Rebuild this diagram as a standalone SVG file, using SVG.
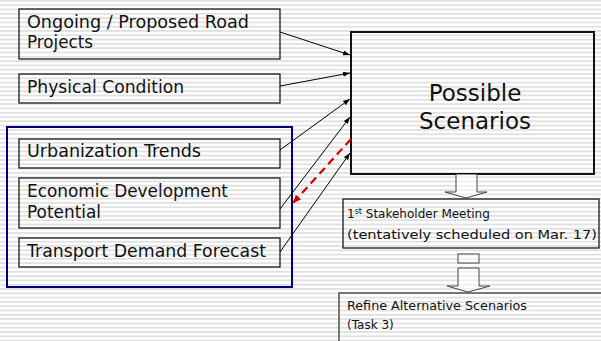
<svg xmlns="http://www.w3.org/2000/svg" width="601" height="341" viewBox="0 0 601 341">
<style>
.box{fill:none;stroke:#1a1a1a;stroke-width:1.3}
.t{font-family:"DejaVu Sans",Verdana,sans-serif;font-size:17px;fill:#111}
.s{font-family:"DejaVu Sans",Verdana,sans-serif;font-size:12px;fill:#111}
.c{stroke:#000;stroke-width:1;fill:none;marker-end:url(#ah)}
.blk{fill:#fff;fill-opacity:0.5;stroke:#444;stroke-width:1}
</style>
<defs>
<pattern id="bg" width="10" height="4.3" patternUnits="userSpaceOnUse">
<rect width="10" height="4.3" fill="#ffffff"/>
<rect y="0" width="10" height="1.8" fill="#e0e0e0"/>
</pattern>
<marker id="ah" markerWidth="8" markerHeight="8" refX="7" refY="4" orient="auto" markerUnits="userSpaceOnUse">
<path d="M0,1.5 L7,4 L0,6.5 Z" fill="#000"/>
</marker>
<marker id="ahr" markerWidth="10" markerHeight="10" refX="8" refY="5" orient="auto" markerUnits="userSpaceOnUse">
<path d="M0,1.5 L8,5 L0,8.5 Z" fill="#d40000"/>
</marker>
</defs>
<rect width="601" height="341" fill="url(#bg)"/>

<g id="group-left">
<rect x="7" y="127" width="285" height="160" fill="none" stroke="#00007a" stroke-width="2"/>
</g>

<g id="node-road">
<rect class="box" x="19" y="9" width="261" height="50"/>
<text class="t" x="27" y="28" textLength="222" lengthAdjust="spacingAndGlyphs">Ongoing / Proposed Road</text>
<text class="t" x="27" y="48" textLength="66" lengthAdjust="spacingAndGlyphs">Projects</text>
</g>
<g id="node-physical">
<rect class="box" x="19" y="74" width="261" height="29"/>
<text class="t" x="27" y="93" textLength="157" lengthAdjust="spacingAndGlyphs">Physical Condition</text>
</g>
<g id="node-urban">
<rect class="box" x="19" y="139" width="261" height="29"/>
<text class="t" x="27" y="157" textLength="174" lengthAdjust="spacingAndGlyphs">Urbanization Trends</text>
</g>
<g id="node-econ">
<rect class="box" x="19" y="178" width="261" height="50"/>
<text class="t" x="27" y="197" textLength="201" lengthAdjust="spacingAndGlyphs">Economic Development</text>
<text class="t" x="27" y="218" textLength="74" lengthAdjust="spacingAndGlyphs">Potential</text>
</g>
<g id="node-transport">
<rect class="box" x="19" y="238" width="261" height="29"/>
<text class="t" x="27" y="257" textLength="239" lengthAdjust="spacingAndGlyphs">Transport Demand Forecast</text>
</g>

<g id="node-scenarios">
<rect x="351" y="32" width="243" height="142" fill="none" stroke="#111" stroke-width="2"/>
<text x="475" y="101" text-anchor="middle" font-family="'DejaVu Sans',Verdana,sans-serif" font-size="23" fill="#111">Possible</text>
<text x="475" y="129" text-anchor="middle" font-family="'DejaVu Sans',Verdana,sans-serif" font-size="23" fill="#111">Scenarios</text>
</g>

<g id="node-meeting">
<rect class="box" x="343" y="199" width="256" height="49"/>
<text class="s" x="347" y="218">1<tspan font-size="8" dy="-4">st</tspan><tspan dy="4"> Stakeholder Meeting</tspan></text>
<text class="s" x="347" y="239" textLength="250" lengthAdjust="spacingAndGlyphs">(tentatively scheduled on Mar. 17)</text>
</g>

<g id="node-refine">
<path d="M339,345 L339,293 L605,293" fill="none" stroke="#777" stroke-width="2"/>
<text class="s" x="347" y="310" textLength="180" lengthAdjust="spacingAndGlyphs">Refine Alternative Scenarios</text>
<text class="s" x="347" y="329">(Task 3)</text>
</g>

<g id="connectors">
<line class="c" x1="280" y1="32" x2="350" y2="55"/>
<line class="c" x1="280" y1="86" x2="350" y2="73"/>
<line class="c" x1="280" y1="150" x2="350" y2="99"/>
<line class="c" x1="280" y1="209" x2="350" y2="117"/>
<line class="c" x1="280" y1="252" x2="350" y2="153"/>
<line x1="351" y1="139" x2="293" y2="203" stroke="#d40000" stroke-width="2.2" stroke-dasharray="8,5" marker-end="url(#ahr)"/>
<path class="blk" d="M456,174 L456,192 L445,192 L466,198 L487,192 L477,192 L477,174"/>
<rect class="blk" x="458" y="254" width="21" height="9"/>
<path class="blk" d="M458,268 L458,286 L447,286 L468,292 L490,286 L479,286 L479,268 Z"/>
</g>
</svg>
